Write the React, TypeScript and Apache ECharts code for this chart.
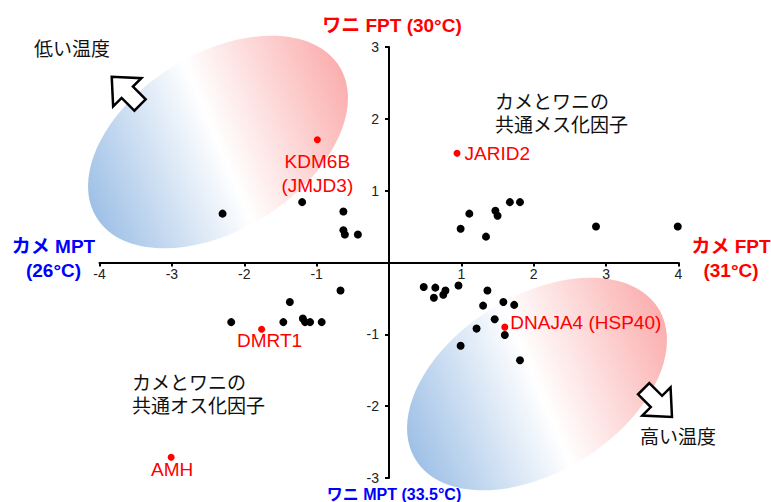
import React, { useEffect, useRef } from 'react';
import * as echarts from 'echarts';

// Black (other) genes: [x, y]
const otherGenes: [number, number][] = [
  [-2.30, 0.68], [-1.20, 0.84], [-0.63, 0.71], [-0.63, 0.45], [-0.61, 0.39], [-0.43, 0.39],
  [-0.67, -0.39], [-1.37, -0.55], [-2.18, -0.83], [-1.46, -0.83], [-1.19, -0.78], [-1.16, -0.83],
  [-1.09, -0.83], [-0.93, -0.83],
  [0.99, 0.47], [1.11, 0.68], [1.34, 0.36], [1.47, 0.72], [1.50, 0.65], [1.67, 0.84],
  [1.81, 0.84], [2.86, 0.50], [3.99, 0.50],
  [0.48, -0.34], [0.64, -0.35], [0.62, -0.49], [0.75, -0.45], [0.78, -0.39], [0.96, -0.32],
  [1.36, -0.39], [1.30, -0.60], [1.58, -0.55], [1.73, -0.59], [1.46, -0.79], [1.21, -0.92],
  [1.60, -1.01], [0.99, -1.16], [1.81, -1.36],
];

// Highlighted genes
const keyNames = ['KDM6B\n(JMJD3)', 'JARID2', 'DMRT1', 'DNAJA4 (HSP40)', 'AMH'];
const keyX = [-0.99, 0.94, -1.76, 1.60, -3.01];
const keyY = [1.71, 1.52, -0.93, -0.90, -2.71];

const xTicks = [-4, -3, -2, -1, 0, 1, 2, 3, 4];
const yTicks = [-3, -2, -1, 0, 1, 2, 3];

const FONT = '"Liberation Sans", Arial, "Noto Sans CJK JP", sans-serif';

// label placement for the highlighted genes
const keyLabelPlacement: any[] = [
  { position: 'inside', offset: [0, 34] },
  { position: 'right', distance: 4, offset: [0, 0] },
  { position: 'inside', offset: [8, 11] },
  { position: 'right', distance: 2, offset: [0, -5] },
  { position: 'inside', offset: [1, 12] },
];

const arrowPts = [[0, -8], [18, -8], [18, -20], [40, 0], [18, 20], [18, 8], [0, 8]];

const GRID = { left: 99.5, right: 92.5, top: 47, bottom: 24 };
const W = 771;
const H = 502;

function ellipseGroup(cx: number, cy: number) {
  return {
    type: 'group',
    x: cx,
    y: cy,
    rotation: (32 * Math.PI) / 180,
    z: -10,
    children: [
      {
        type: 'ellipse',
        shape: { cx: 0, cy: 0, rx: 143, ry: 88 },
        style: {
          fill: {
            type: 'linear',
            x: 0, y: 0.45, x2: 1, y2: 0.55,
            colorStops: [
              { offset: 0, color: '#9ec0e6' },
              { offset: 0.5, color: '#ffffff' },
              { offset: 1, color: '#fbaeae' },
            ],
          },
        },
      },
    ],
  };
}

function arrow(x: number, y: number, rot: number) {
  return {
    type: 'polygon',
    x, y,
    rotation: rot,
    z: 10,
    shape: { points: arrowPts },
    style: { fill: '#ffffff', stroke: '#000000', lineWidth: 2.5, lineJoin: 'miter' },
  };
}

function label(x: number, y: number, text: string, color: string, opts: any = {}) {
  return {
    type: 'text',
    x, y,
    z: 20,
    style: {
      text,
      fill: color,
      fontSize: opts.fontSize ?? 19,
      fontWeight: opts.bold ? 'bold' : 'normal',
      fontFamily: FONT,
      textAlign: opts.align ?? 'center',
      textVerticalAlign: 'middle',
      lineHeight: opts.lineHeight ?? 24,
    },
  };
}

export default function App() {
  const ref = useRef<HTMLDivElement>(null);
  useEffect(() => {
    if (!ref.current) return;
    const chart = echarts.init(ref.current, null, { renderer: 'svg' });
    const xMin = xTicks[0];
    const xMax = xTicks[xTicks.length - 1];
    const yMin = yTicks[0];
    const yMax = yTicks[yTicks.length - 1];
    const plotW = W - GRID.left - GRID.right;
    const plotH = H - GRID.top - GRID.bottom;
    // shift the axes so that they cross at the origin
    const xAxisOffset = -((0 - yMin) / (yMax - yMin)) * plotH;
    const yAxisOffset = -((0 - xMin) / (xMax - xMin)) * plotW;
    const axisCommon = {
      type: 'value',
      interval: 1,
      splitLine: { show: false },
      axisLine: { onZero: false, lineStyle: { color: '#000', width: 2 } },
      axisTick: { show: true, length: 4, lineStyle: { color: '#000', width: 2 } },
      axisLabel: {
        color: '#222',
        fontSize: 14,
        fontFamily: FONT,
        showMinLabel: true,
        showMaxLabel: true,
        formatter: (v: number) => (v === 0 ? '' : String(v)),
      },
    };
    chart.setOption({
      animation: false,
      backgroundColor: '#ffffff',
      grid: { ...GRID, containLabel: false },
      xAxis: {
        ...axisCommon,
        position: 'bottom',
        offset: xAxisOffset,
        min: xMin,
        max: xMax,
        axisLabel: { ...axisCommon.axisLabel, margin: 4 },
      },
      yAxis: {
        ...axisCommon,
        position: 'left',
        offset: yAxisOffset,
        min: yMin,
        max: yMax,
        axisLabel: { ...axisCommon.axisLabel, margin: 10 },
      },
      series: [
        {
          type: 'scatter',
          name: 'genes',
          symbolSize: 8,
          itemStyle: { color: '#000000', opacity: 1 },
          data: otherGenes,
          z: 3,
        },
        {
          type: 'scatter',
          name: 'key',
          symbolSize: 7,
          itemStyle: { color: '#ff0000', opacity: 1 },
          z: 4,
          data: keyNames.map((n, i) => ({
            value: [keyX[i], keyY[i]],
            name: n,
            label: {
              show: true,
              formatter: n,
              color: '#ff0000',
              fontSize: 19,
              lineHeight: 24,
              fontFamily: FONT,
              textBorderWidth: 0,
              ...keyLabelPlacement[i],
            },
          })),
        },
      ],
      graphic: [
        ellipseGroup(218, 142),
        ellipseGroup(537, 384),
        arrow(140, 105, (135 * Math.PI) / 180),
        arrow(643.7, 388.7, (-45 * Math.PI) / 180),
        label(392, 25, 'ワニ FPT (30°C)', '#ff0000', { bold: true }),
        label(53.5, 258, 'カメ MPT\n(26°C)', '#0000ff', { bold: true }),
        label(731, 258, 'カメ FPT\n(31°C)', '#ff0000', { bold: true }),
        label(394, 494, 'ワニ MPT (33.5°C)', '#0000ff', { bold: true, fontSize: 16, lineHeight: 16 }),
        label(34, 49, '低い温度', '#111111', { align: 'left' }),
        label(640, 437, '高い温度', '#111111', { align: 'left' }),
        label(495, 114, 'カメとワニの\n共通メス化因子', '#111111', { align: 'left', lineHeight: 23 }),
        label(132, 395, 'カメとワニの\n共通オス化因子', '#111111', { align: 'left', lineHeight: 23 }),
      ],
    });
    return () => chart.dispose();
  }, []);
  return (
    <div
      ref={ref}
      style={{ position: 'absolute', left: 0, top: 0, width: W, height: H, background: '#fff' }}
    />
  );
}
